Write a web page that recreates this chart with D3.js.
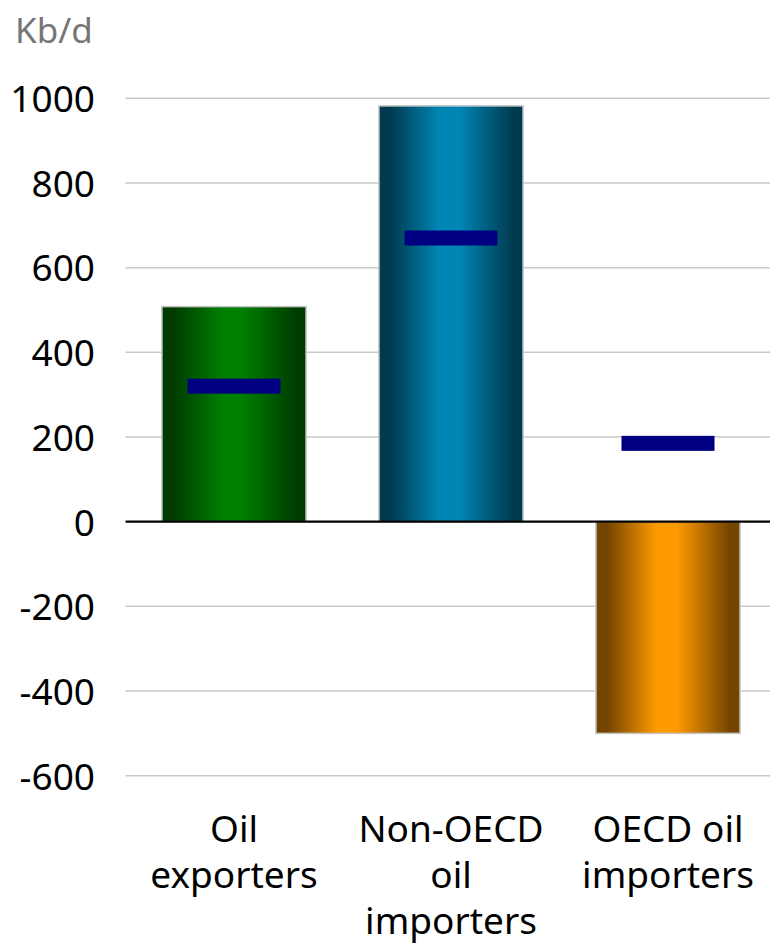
<!DOCTYPE html>
<html>
<head>
<meta charset="utf-8">
<script src="https://cdn.jsdelivr.net/npm/d3@7"></script>
<style>
  html, body { margin: 0; padding: 0; background: #fff; }
  svg { display: block; font-family: "Noto Sans", "Open Sans", sans-serif; }
</style>
</head>
<body>
<svg id="chart" width="770" height="946"></svg>
<script>
const categories = [["Oil", "exporters"], ["Non-OECD", "oil", "importers"], ["OECD oil", "importers"]];
const barValues = [508, 982, -500];
const markerValues = [320, 670, 185];
const yTicks = [-600, -400, -200, 0, 200, 400, 600, 800, 1000];
const unitLabel = "Kb/d";
const barColors = [
  { dark: "#003c00", light: "#007e00" },
  { dark: "#003a4f", light: "#0086b4" },
  { dark: "#744500", light: "#ff9a00" }
];

const svg = d3.select("#chart");
const keys = categories.map((c, i) => i);

const x = d3.scaleBand().domain(keys).range([125.5, 776.5]).paddingInner(0.336).paddingOuter(0.168);
const y = d3.scaleLinear().domain([-600, 1000]).range([775.7, 98.3]);

// gradients
const defs = svg.append("defs");
barColors.forEach((c, i) => {
  const g = defs.append("linearGradient").attr("id", "g" + i)
    .attr("x1", 0).attr("x2", 1).attr("y1", 0).attr("y2", 0);
  [[0, c.dark], [0.08, c.dark], [0.42, c.light], [0.56, c.light], [0.93, c.dark], [1, c.dark]]
    .forEach(([o, col]) => g.append("stop").attr("offset", o).attr("stop-color", col));
});

// gridlines
svg.append("g").selectAll("line").data(yTicks.filter(t => t !== 0)).join("line")
  .attr("x1", 125.5).attr("x2", 770)
  .attr("y1", d => y(d)).attr("y2", d => y(d))
  .attr("stroke", "#c8c8c8").attr("stroke-width", 1.5);

// y axis labels
const yAxis = d3.axisLeft(y).tickValues(yTicks).tickSize(0).tickPadding(0).tickFormat(d => String(d));
const ya = svg.append("g").attr("transform", "translate(95,0)").call(yAxis);
ya.select(".domain").remove();
ya.selectAll("text").attr("font-size", 37).attr("fill", "#000")
  .attr("font-family", "'Noto Sans', 'Open Sans', sans-serif").attr("dy", "0.36em");

// bars
svg.append("g").selectAll("rect").data(barValues).join("rect")
  .attr("x", (d, i) => x(i))
  .attr("width", x.bandwidth())
  .attr("y", d => y(Math.max(0, d)))
  .attr("height", d => Math.abs(y(d) - y(0)))
  .attr("fill", (d, i) => `url(#g${i})`)
  .attr("stroke", "#c4c4c4").attr("stroke-width", 1.5);

// zero line
svg.append("line").attr("x1", 125.5).attr("x2", 770).attr("y1", y(0)).attr("y2", y(0))
  .attr("stroke", "#000").attr("stroke-width", 2.2);

// markers
const mw = 93, mh = 15;
svg.append("g").selectAll("rect").data(markerValues).join("rect")
  .attr("x", (d, i) => x(i) + x.bandwidth() / 2 - mw / 2)
  .attr("width", mw)
  .attr("y", d => y(d) - mh / 2)
  .attr("height", mh)
  .attr("fill", "#000080");

// category labels
const cl = svg.append("g").selectAll("text").data(categories).join("text")
  .attr("text-anchor", "middle").attr("font-size", 37).attr("fill", "#000")
  .attr("transform", (d, i) => `translate(${x(i) + x.bandwidth() / 2},842)`);
cl.selectAll("tspan").data(d => d).join("tspan")
  .attr("x", 0).attr("y", (d, j) => j * 46).text(d => d);

// unit label
svg.append("text").attr("x", 15).attr("y", 43).attr("font-size", 35).attr("fill", "#767676")
  .text(unitLabel);
</script>
</body>
</html>
